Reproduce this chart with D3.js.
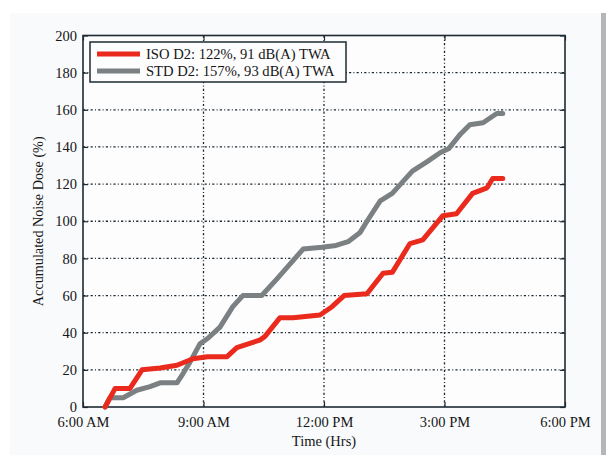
<!DOCTYPE html>
<meta charset="utf-8">
<style>
body { margin: 0; background: #fff; }
svg { display: block; }
.tick text, .lbl { font-family: "Liberation Serif", "Times New Roman", serif; fill: #161616; }
</style>
<body>
<script src="https://cdn.jsdelivr.net/npm/d3@7"></script>
<script>

// hours of day (decimal) and accumulated dose (%)
var isoHours = [6.55, 6.8, 7.17, 7.47, 7.92, 8.34, 8.74, 9.1, 9.58, 9.83, 10.4, 10.53, 10.9, 11.23, 11.9, 12.2, 12.5, 13.07, 13.47, 13.7, 14.14, 14.46, 14.96, 15.3, 15.7, 16.06, 16.2, 16.45];
var isoDose  = [0, 10, 10, 20, 21, 22.5, 26, 27, 27, 32, 36, 38, 48, 48, 49.5, 54, 60, 61, 72, 72.5, 88, 90, 103, 104, 115, 118, 123, 123];
var stdHours = [6.55, 6.67, 7.0, 7.34, 7.67, 7.92, 8.34, 8.49, 8.66, 8.91, 9.11, 9.41, 9.73, 9.98, 10.45, 10.83, 11.48, 11.95, 12.3, 12.6, 12.9, 13.07, 13.4, 13.7, 14.2, 14.56, 14.9, 15.1, 15.4, 15.63, 15.96, 16.3, 16.45];
var stdDose  = [0, 5, 5, 9, 11, 13, 13, 18, 24, 34, 37, 43, 54, 60, 60, 69, 85, 86, 87, 89, 94, 100, 111, 115, 127, 132, 137, 139, 147, 152, 153, 158, 158];
var seriesNames = ["ISO D2: 122%, 91 dB(A) TWA", "STD D2: 157%, 93 dB(A) TWA"];
var seriesColors = ["#ea2a1c", "#7b8083"];
var xTicks = [6, 9, 12, 15, 18];
var xTickLabels = ["6:00 AM", "9:00 AM", "12:00 PM", "3:00 PM", "6:00 PM"];
var yTicks = [0, 20, 40, 60, 80, 100, 120, 140, 160, 180, 200];

var W = 606, H = 455;
var margin = {top: 35.5, right: 41, bottom: 48, left: 83};
var width = W - margin.left - margin.right,
    height = H - margin.top - margin.bottom;

var svg = d3.select("body").append("svg")
    .attr("width", W)
    .attr("height", H);

// panel behind the chart
svg.append("rect").attr("x", 10).attr("y", 13).attr("width", 591).attr("height", 442)
    .attr("fill", "#f9fafc");
svg.append("rect").attr("x", 601).attr("y", 13).attr("width", 5).attr("height", 442)
    .attr("fill", "#b4b6b8");

var g = svg.append("g").attr("transform", "translate(" + margin.left + "," + margin.top + ")");

var x = d3.scaleLinear().domain([6, 18]).range([0, width]);
var y = d3.scaleLinear().domain([0, 200]).range([height, 0]);

g.append("rect").attr("width", width).attr("height", height).attr("fill", "#fdfdfe");

// dash-dot grid
var grid = g.append("g").attr("stroke", "#1d2a33").attr("stroke-width", 1.3)
    .attr("stroke-dasharray", "2.2,2.2,1,2.2");
grid.selectAll(".gx").data(xTicks.slice(1, -1)).enter().append("line")
    .attr("x1", x).attr("x2", x).attr("y1", 0).attr("y2", height);
grid.selectAll(".gy").data(yTicks.slice(1, -1)).enter().append("line")
    .attr("y1", y).attr("y2", y).attr("x1", 0).attr("x2", width);

// axes (ticks pointing in)
var fmt = function(d, i) { return xTickLabels[i]; };
g.append("g").attr("transform", "translate(0," + height + ")")
    .call(d3.axisBottom(x).tickValues(xTicks).tickFormat(fmt).tickSizeInner(-5).tickSizeOuter(0).tickPadding(10));
g.append("g")
    .call(d3.axisTop(x).tickValues(xTicks).tickFormat("").tickSizeInner(-5).tickSizeOuter(0));
g.append("g")
    .call(d3.axisLeft(y).tickValues(yTicks).tickSizeInner(-5).tickSizeOuter(0).tickPadding(6));
g.append("g").attr("transform", "translate(" + width + ",0)")
    .call(d3.axisRight(y).tickValues(yTicks).tickFormat("").tickSizeInner(-5).tickSizeOuter(0));

g.selectAll(".domain").remove();
g.selectAll(".tick line").attr("stroke", "#1d2a33").attr("stroke-width", 1.2);
g.selectAll(".tick text").attr("font-size", 14.5);

g.append("rect").attr("width", width).attr("height", height)
    .attr("fill", "none").attr("stroke", "#1d2a33").attr("stroke-width", 1.6);

// series
var line = d3.line().x(function(d) { return x(d[0]); }).y(function(d) { return y(d[1]); });
var series = [d3.zip(isoHours, isoDose), d3.zip(stdHours, stdDose)];

g.selectAll(".series").data([1, 0]).enter().append("path")
    .attr("d", function(i) { return line(series[i]); })
    .attr("fill", "none")
    .attr("stroke", function(i) { return seriesColors[i]; })
    .attr("stroke-width", 5)
    .attr("stroke-linejoin", "round")
    .attr("stroke-linecap", "round");

// legend
var lg = g.append("g").attr("transform", "translate(7,6.5)");
lg.append("rect").attr("width", 256).attr("height", 40)
    .attr("fill", "#fdfdfe").attr("stroke", "#1d2a33").attr("stroke-width", 1.5);
var items = lg.selectAll(".item").data(seriesNames).enter().append("g")
    .attr("transform", function(d, i) { return "translate(0," + (12 + i * 17) + ")"; });
items.append("line").attr("x1", 7).attr("x2", 50)
    .attr("stroke", function(d, i) { return seriesColors[i]; })
    .attr("stroke-width", 5);
items.append("text").attr("class", "lbl").attr("x", 56).attr("dy", "0.35em")
    .attr("font-size", 14.6).text(function(d) { return d; });

// axis titles
svg.append("text").attr("class", "lbl")
    .attr("x", margin.left + width / 2).attr("y", 446)
    .attr("text-anchor", "middle").attr("font-size", 14.5).text("Time (Hrs)");
svg.append("text").attr("class", "lbl")
    .attr("transform", "translate(43," + (margin.top + height / 2) + ") rotate(-90)")
    .attr("text-anchor", "middle").attr("font-size", 14.2).text("Accumulated Noise Dose (%)");

</script>
